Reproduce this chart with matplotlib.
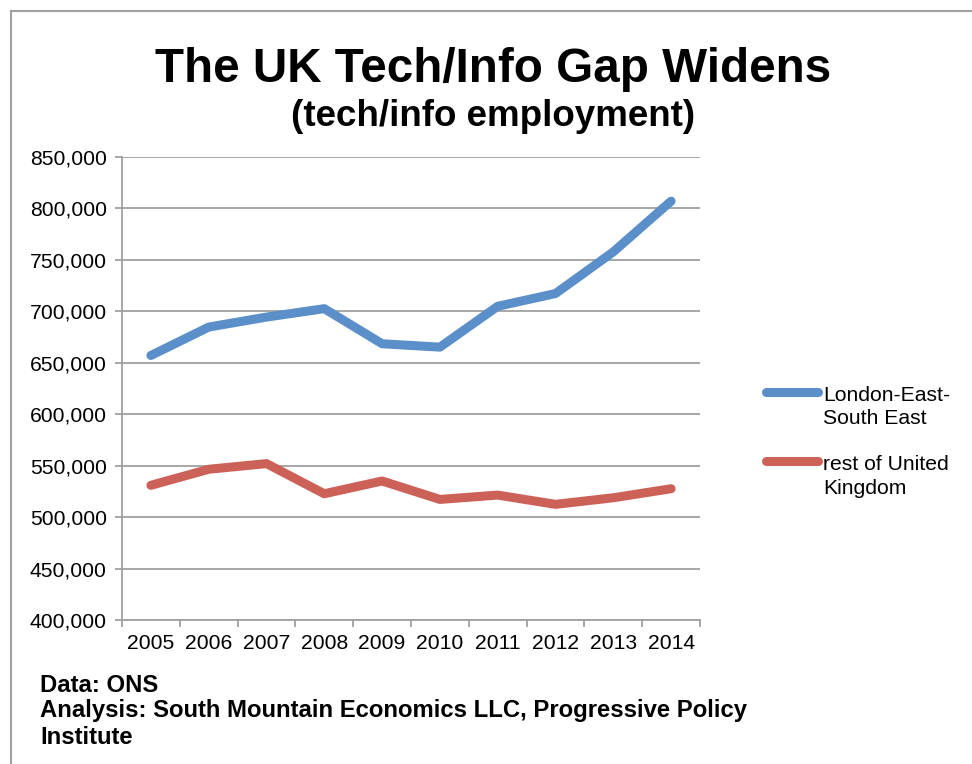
import matplotlib.pyplot as plt
from matplotlib.ticker import FuncFormatter, FixedLocator
from matplotlib.lines import Line2D

plt.rcParams['font.family'] = ['Liberation Sans', 'DejaVu Sans']

# data
years = ['2005', '2006', '2007', '2008', '2009', '2010', '2011', '2012', '2013', '2014']
london_se = [657100, 684700, 694400, 702600, 668500, 665200, 704900, 717300, 757800, 807100]
rest_uk = [530900, 546500, 552000, 522700, 535100, 517200, 521400, 512400, 518800, 527600]
series_labels = ['London-East-\nSouth East', 'rest of United\nKingdom']
colors = ['#5B8FC9', '#CC6158']

W, H = 972, 764
fig = plt.figure(figsize=(9.72, 7.64), dpi=100)

# grey frame around the chart (left and top visible)
fig.add_artist(Line2D([11 / W, 11 / W], [0, 1 - 11 / H], color='#a0a0a0', lw=1.5))
fig.add_artist(Line2D([11 / W, 1], [1 - 11 / H, 1 - 11 / H], color='#a0a0a0', lw=1.5))

ax = fig.add_axes([122 / W, 1 - 620 / H, 578 / W, 463 / H])

x = range(len(years))
ax.plot(x, london_se, color=colors[0], lw=6.5, solid_capstyle='round', solid_joinstyle='round')
ax.plot(x, rest_uk, color=colors[1], lw=6.5, solid_capstyle='round', solid_joinstyle='round')

ax.set_xlim(-0.5, len(years) - 0.5)
ax.set_ylim(400000, 850000)
ax.set_yticks(range(400000, 850001, 50000))
ax.yaxis.set_major_formatter(FuncFormatter(lambda v, p: f'{int(v):,}'))
ax.yaxis.grid(True, color='#a0a0a0', lw=1.3)
ax.set_axisbelow(True)

ax.set_xticks(list(x))
ax.set_xticklabels(years)
ax.xaxis.set_minor_locator(FixedLocator([i - 0.5 for i in range(len(years) + 1)]))
ax.tick_params(axis='x', which='major', length=0, pad=10, labelsize=15.2)
ax.tick_params(axis='x', which='minor', length=5, color='#a0a0a0', width=1.3)
ax.tick_params(axis='y', length=5, color='#a0a0a0', width=1.3, labelsize=15.2, pad=6)

for s in ['top', 'right']:
    ax.spines[s].set_visible(False)
for s in ['left', 'bottom']:
    ax.spines[s].set_color('#a0a0a0')
    ax.spines[s].set_linewidth(1.3)

fig.text(493 / W, 1 - 70 / H, 'The UK Tech/Info Gap Widens', ha='center', va='center',
         fontsize=34.3, fontweight='bold')
fig.text(493 / W, 1 - 117 / H, '(tech/info employment)', ha='center', va='center',
         fontsize=26.5, fontweight='bold')

# legend drawn by hand: handle level with the first text line
legend_y = [392, 461]
for c, lab, yy in zip(colors, series_labels, legend_y):
    fig.add_artist(Line2D([766 / W, 818 / W], [1 - yy / H, 1 - yy / H], color=c, lw=6.5,
                          solid_capstyle='round'))
    fig.text(823 / W, 1 - (yy - 6) / H, lab, ha='left', va='top', fontsize=15.2,
             linespacing=1.3)

fig.text(40 / W, 1 - 685 / H, 'Data: ONS', ha='left', va='center', fontsize=17.2, fontweight='bold')
fig.text(40 / W, 1 - 710 / H, 'Analysis: South Mountain Economics LLC, Progressive Policy',
         ha='left', va='center', fontsize=17.2, fontweight='bold')
fig.text(40 / W, 1 - 738 / H, 'Institute', ha='left', va='center', fontsize=17.2, fontweight='bold')

fig.savefig('out.png', dpi=100)
